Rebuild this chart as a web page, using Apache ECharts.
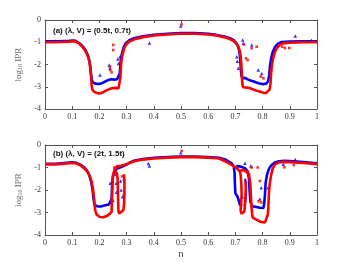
<!DOCTYPE html>
<html><head><meta charset="utf-8">
<script src="https://cdn.jsdelivr.net/npm/echarts@6/dist/echarts.min.js"></script>
<style>html,body{margin:0;padding:0;background:#fff}#c{width:350px;height:263px}</style>
</head><body><div id="c"></div>
<script>
// ---------- data (n, log10 IPR) ----------
const xTicks = [0,0.1,0.2,0.3,0.4,0.5,0.6,0.7,0.8,0.9,1];
const yTicks = [-4,-3,-2,-1,0];
const titleA = '(a) (\u03bb, V) = (0.5t, 0.7t)';
const titleB = '(b) (\u03bb, V) = (2t, 1.5t)';

const aBlue = [[0,-0.96],[0.05,-0.96],[0.09,-0.94],[0.105,-0.92],[0.12,-0.99],[0.13,-1.08],[0.14,-1.2],[0.15,-1.38],[0.157,-1.56],[0.162,-1.78],[0.166,-2.05],[0.169,-2.4],[0.172,-2.68],[0.176,-2.8],[0.185,-2.86],[0.195,-2.88],[0.205,-2.86],[0.215,-2.8],[0.225,-2.74],[0.235,-2.69],[0.245,-2.66],[0.255,-2.68],[0.265,-2.66],[0.272,-2.68],[0.275,-2.4],[0.277,-2.0],[0.28,-1.7],[0.284,-1.45],[0.29,-1.2],[0.297,-1.04],[0.31,-0.91],[0.33,-0.81],[0.36,-0.73],[0.4,-0.67],[0.45,-0.62],[0.5,-0.59],[0.55,-0.59],[0.6,-0.62],[0.63,-0.67],[0.66,-0.74],[0.68,-0.82],[0.695,-0.92],[0.703,-1.04],[0.71,-1.2],[0.715,-1.45],[0.718,-1.8],[0.72,-2.2],[0.722,-2.5],[0.726,-2.62],[0.735,-2.6],[0.745,-2.67],[0.755,-2.72],[0.765,-2.75],[0.775,-2.8],[0.785,-2.84],[0.795,-2.87],[0.805,-2.88],[0.813,-2.86],[0.82,-2.76],[0.824,-2.5],[0.827,-2.1],[0.831,-1.75],[0.837,-1.45],[0.845,-1.22],[0.855,-1.08],[0.87,-0.99],[0.9,-0.97],[0.95,-0.96],[1,-0.96]];
const aRed = [[0,-1.0],[0.03,-1.0],[0.06,-0.99],[0.09,-0.97],[0.105,-0.95],[0.115,-0.98],[0.125,-1.05],[0.135,-1.17],[0.145,-1.32],[0.152,-1.48],[0.158,-1.65],[0.163,-1.85],[0.166,-2.1],[0.169,-2.5],[0.171,-2.9],[0.174,-3.12],[0.18,-3.22],[0.19,-3.28],[0.2,-3.3],[0.21,-3.27],[0.22,-3.2],[0.23,-3.14],[0.24,-3.09],[0.25,-3.06],[0.26,-3.05],[0.27,-3.08],[0.276,-3.1],[0.277,-2.6],[0.279,-2.1],[0.282,-1.75],[0.287,-1.45],[0.293,-1.22],[0.3,-1.08],[0.31,-0.97],[0.33,-0.86],[0.36,-0.77],[0.4,-0.7],[0.45,-0.65],[0.5,-0.62],[0.55,-0.62],[0.6,-0.65],[0.63,-0.7],[0.66,-0.78],[0.68,-0.86],[0.695,-0.96],[0.705,-1.08],[0.713,-1.25],[0.718,-1.5],[0.721,-1.85],[0.723,-2.3],[0.725,-2.8],[0.728,-3.02],[0.735,-3.08],[0.745,-3.04],[0.755,-3.07],[0.765,-3.12],[0.775,-3.17],[0.785,-3.2],[0.795,-3.24],[0.805,-3.28],[0.813,-3.28],[0.82,-3.24],[0.826,-3.12],[0.829,-2.85],[0.831,-2.45],[0.834,-2.05],[0.838,-1.75],[0.845,-1.45],[0.853,-1.25],[0.862,-1.12],[0.875,-1.05],[0.9,-1.02],[0.95,-1.0],[1,-1.0]];
const aBlueOut = [[0.038,-0.94],[0.202,-2.47],[0.236,-2.02],[0.239,-2.17],[0.276,-1.65],[0.27,-1.95],[0.268,-1.75],[0.384,-1.03],[0.499,-0.27],[0.727,-0.9],[0.729,-1.05],[0.76,-1.12],[0.705,-1.65],[0.707,-1.85],[0.711,-2.17],[0.784,-2.25],[0.797,-2.4],[0.86,-1.12],[0.92,-0.72],[0.98,-0.91]];
const aRedOut = [[0.251,-1.12],[0.251,-1.35],[0.239,-2.1],[0.24,-2.25],[0.245,-2.35],[0.502,-0.2],[0.732,-1.1],[0.76,-1.27],[0.778,-1.2],[0.739,-1.72],[0.745,-1.8],[0.793,-2.55],[0.803,-2.62],[0.872,-1.2],[0.882,-1.26],[0.898,-1.26],[0.11,-0.93]];

const bBlueA = [[0,-0.83],[0.04,-0.83],[0.08,-0.79],[0.1,-0.77],[0.115,-0.79],[0.13,-0.87],[0.145,-1.0],[0.155,-1.15],[0.163,-1.35],[0.17,-1.65],[0.175,-2.0],[0.178,-2.35],[0.181,-2.6],[0.187,-2.7],[0.195,-2.73],[0.205,-2.73],[0.215,-2.7],[0.225,-2.67],[0.235,-2.64],[0.242,-2.6],[0.245,-2.4],[0.246,-2.0],[0.247,-1.7],[0.25,-1.4],[0.255,-1.2],[0.265,-1.05],[0.28,-0.98],[0.295,-0.9],[0.31,-0.79],[0.33,-0.69],[0.36,-0.62],[0.4,-0.57],[0.45,-0.53],[0.5,-0.51],[0.55,-0.51],[0.6,-0.53],[0.64,-0.57],[0.665,-0.66],[0.685,-0.8],[0.694,-0.95],[0.697,-1.25],[0.698,-1.7],[0.7,-2.15],[0.708,-2.3],[0.713,-2.5],[0.717,-2.67],[0.724,-2.72]];
const bBlueB = [[0.733,-2.7],[0.737,-2.5],[0.739,-2.2],[0.739,-1.85],[0.736,-1.5]];
const bBlueC = [[0.703,-0.93],[0.72,-0.96],[0.735,-1.03],[0.745,-1.18],[0.75,-1.5],[0.752,-2.0],[0.755,-2.5],[0.76,-2.72],[0.772,-2.74],[0.79,-2.79],[0.803,-2.8],[0.806,-2.6],[0.809,-2.15],[0.811,-1.7],[0.816,-1.33],[0.824,-1.04],[0.833,-0.89],[0.845,-0.78],[0.86,-0.72],[0.88,-0.7],[0.9,-0.71],[0.95,-0.76],[1,-0.81]];
const bRedA = [[0,-0.86],[0.04,-0.86],[0.08,-0.82],[0.1,-0.8],[0.115,-0.82],[0.13,-0.9],[0.145,-1.05],[0.157,-1.2],[0.165,-1.4],[0.172,-1.65],[0.177,-2.0],[0.181,-2.45],[0.184,-2.88],[0.19,-3.1],[0.202,-3.2],[0.214,-3.21],[0.227,-3.16],[0.239,-3.05],[0.245,-2.96],[0.246,-2.45],[0.248,-1.85],[0.249,-1.41],[0.255,-1.1],[0.264,-0.95],[0.28,-0.92],[0.3,-0.86],[0.315,-0.78],[0.335,-0.7],[0.36,-0.65],[0.4,-0.6],[0.45,-0.56],[0.5,-0.54],[0.55,-0.54],[0.6,-0.56],[0.64,-0.6],[0.662,-0.72],[0.686,-0.88],[0.705,-1.03],[0.717,-1.2],[0.72,-1.4],[0.722,-1.8],[0.723,-2.2],[0.721,-2.6],[0.719,-2.9],[0.722,-3.05],[0.728,-3.08],[0.733,-2.95],[0.736,-2.5],[0.738,-2.0],[0.738,-1.6]];
const bRedC = [[0.717,-1.15],[0.729,-1.11],[0.741,-1.19],[0.75,-1.33],[0.755,-1.7],[0.757,-2.3],[0.76,-2.89],[0.763,-3.22],[0.778,-3.33],[0.79,-3.4],[0.8,-3.43],[0.809,-3.44],[0.815,-3.36],[0.819,-3.1],[0.821,-2.8],[0.823,-2.2],[0.826,-1.75],[0.831,-1.35],[0.837,-1.05],[0.846,-0.85],[0.86,-0.78],[0.88,-0.75],[0.9,-0.76],[0.95,-0.8],[1,-0.85]];
const bRedD = [[0.257,-1.15],[0.264,-1.25],[0.267,-1.5],[0.268,-2.0],[0.269,-2.5],[0.27,-2.95],[0.273,-3.04],[0.28,-2.98],[0.288,-2.9],[0.291,-2.6],[0.292,-2.1],[0.292,-1.6],[0.29,-1.3]];
const bBlueOut = [[0.384,-0.93],[0.38,-0.82],[0.499,-0.34],[0.735,-0.81],[0.757,-0.93],[0.741,-1.11],[0.876,-0.86],[0.92,-0.64],[0.25,-2.45],[0.262,-1.3],[0.262,-1.7],[0.263,-2.1],[0.278,-1.6],[0.28,-2.0],[0.285,-2.3],[0.29,-1.5],[0.725,-2.3],[0.79,-2.4],[0.795,-1.9],[0.24,-1.7],[0.82,-1.9]];
const bRedOut = [[0.503,-0.26],[0.76,-1.0],[0.782,-1.0],[0.746,-1.19],[0.88,-0.99],[0.915,-0.89],[0.255,-1.0],[0.283,-1.4],[0.29,-2.2],[0.79,-1.6],[0.785,-2.5],[0.795,-2.55],[0.75,-1.3]];

// ---------- chart ----------
const BLUE = '#0000ff', RED = '#ff0000', AX = '#555555', TXT = '#333333';
const serif = 'Liberation Serif';
function xAx(g, pos, labels, name) {
  return {type:'value', gridIndex:g, position:pos, min:0, max:1, interval:0.1,
    axisLine:{show:true, onZero:false, lineStyle:{color:AX, width:1}},
    axisTick:{show:true, inside:true, length:3, lineStyle:{color:AX}},
    axisLabel:{show:labels, margin:4, fontFamily:serif, fontSize:8, color:TXT},
    splitLine:{show:false},
    name:name||'', nameLocation:'middle', nameGap:15,
    nameTextStyle:{fontFamily:'Liberation Sans', fontSize:9, color:TXT}};
}
function yAx(g, pos, labels) {
  return {type:'value', gridIndex:g, position:pos, min:-4, max:0, interval:1,
    axisLine:{show:true, onZero:false, lineStyle:{color:AX, width:1}},
    axisTick:{show:true, inside:true, length:3, lineStyle:{color:AX}},
    axisLabel:{show:labels, margin:4, fontFamily:serif, fontSize:8, color:TXT},
    splitLine:{show:false},
    name: labels ? '{a|log}{b|10}{a| IPR}' : '', nameLocation:'middle', nameGap:13,
    nameTextStyle:{rich:{a:{fontFamily:serif, fontSize:9, color:'#666'}, b:{fontFamily:serif, fontSize:6, color:'#666', padding:[4,0,0,0]}}}};
}
function line(data, color, xi, yi, w) {
  return {type:'line', data:data, xAxisIndex:xi, yAxisIndex:yi, showSymbol:false, symbol:'none',
    lineStyle:{color:color, width:w||2.6}, itemStyle:{color:color}, animation:false, z:color===RED?3:2};
}
function dots(data, color, xi, yi) {
  return {type:'scatter', data:data, xAxisIndex:xi, yAxisIndex:yi,
    symbol: color===BLUE ? 'triangle' : 'rect', symbolSize: color===BLUE ? 3.5 : 2.6,
    itemStyle:{color:color}, animation:false, z:color===RED?3:2};
}
const chart = echarts.init(document.getElementById('c'), null, {renderer:'canvas'});
chart.setOption({
  backgroundColor:'#fff',
  animation:false,
  grid:[{left:45, top:20, width:272, height:89},{left:45, top:145, width:272, height:90}],
  xAxis:[xAx(0,'bottom',true), xAx(0,'top',false), xAx(1,'bottom',true,'n'), xAx(1,'top',false)],
  yAxis:[yAx(0,'left',true), yAx(0,'right',false), yAx(1,'left',true), yAx(1,'right',false)],
  graphic:[
    {type:'text', left:53, top:27, style:{text:titleA, font:'bold 8px "Liberation Sans"', fill:'#111'}},
    {type:'text', left:53, top:150, style:{text:titleB, font:'bold 8px "Liberation Sans"', fill:'#111'}}
  ],
  series:[
    line(aBlue, BLUE, 0, 0), dots(aBlueOut, BLUE, 0, 0),
    line(aRed, RED, 0, 0), dots(aRedOut, RED, 0, 0),
    line(bBlueA, BLUE, 2, 2), line(bBlueB, BLUE, 2, 2, 2), line(bBlueC, BLUE, 2, 2), dots(bBlueOut, BLUE, 2, 2),
    line(bRedA, RED, 2, 2), line(bRedC, RED, 2, 2), line(bRedD, RED, 2, 2), dots(bRedOut, RED, 2, 2)
  ]
});
</script></body></html>
